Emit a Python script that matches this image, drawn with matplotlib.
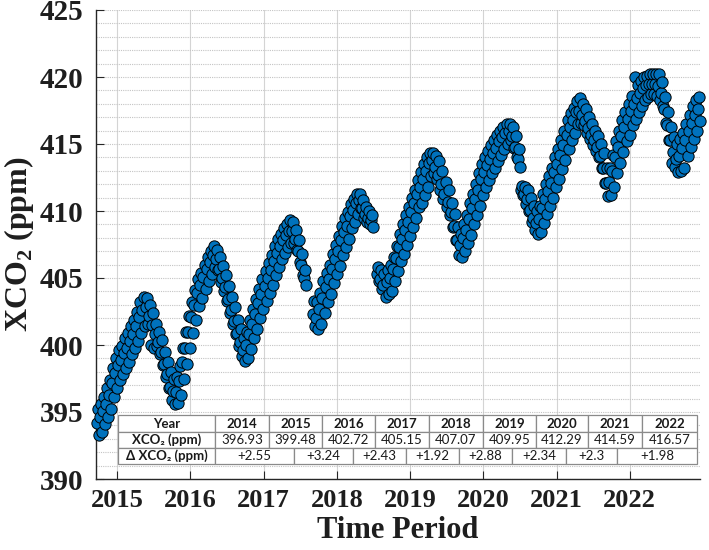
import numpy as np
import matplotlib
matplotlib.use("Agg")
import matplotlib.pyplot as plt
from matplotlib.patches import Rectangle

nan = np.nan

# half-month samples of the XCO2 band, starting Sept 2014
t0 = 2014.72
xco2_mid = [
    394.2, 394.6, 395.1, 395.6, 396.3, 397.2, 397.9, 398.5, 398.9, 399.4,
    399.8, 400.3, 400.8, 401.4, 402.1, 402.6, 402.8, 402.2, 401.5, 400.8,
    400.2, 399.5, 398.6, 397.8, 396.9, 396.6, 396.5, 397.3, 398.7, 399.8,
    401.0, 402.1, 403.0, 403.9, 404.5, 405.1, 405.7, 406.2, 406.7, 406.4,
    405.7, 405.0, 404.3, 403.4, 402.6, 401.8, 400.9, 400.2, 399.6, 400.0,
    400.8, 401.6, 402.3, 403.1, 403.8, 404.4, 405.0, 405.6, 406.3, 406.9,
    407.4, 407.8, 408.2, 408.5, 408.5, 407.9, 407.0, 406.0, 405.0, nan,
    nan, 402.3, 402.0, 402.7, 403.5, 404.3, 404.9, 405.7, 406.4, 407.0,
    407.8, 408.4, 408.9, 409.6, 410.1, 410.6, 410.8, 410.2, 409.8, 409.5,
    409.3, nan, 405.3, 404.9, 404.5, 404.7, 405.0, 405.7, 406.5, 407.3,
    407.9, 408.6, 409.2, 409.9, 410.6, 411.3, 411.8, 412.4, 413.0, 413.6,
    413.8, 413.3, 412.7, 412.0, 411.3, 410.7, 409.9, 408.9, 407.8, 407.5,
    408.0, 408.6, 409.4, 410.2, 410.9, 411.6, 412.4, 412.9, 413.4, 413.9,
    414.3, 414.7, 415.2, 415.5, 415.8, 416.0, 415.6, 414.8, 413.9, 411.6,
    411.3, 410.9, 410.1, 409.5, 409.1, 409.4, 410.2, 410.9, 411.5, 412.1,
    412.9, 413.5, 414.2, 414.9, 415.7, 416.3, 416.8, 417.4, 417.5, 417.2,
    416.7, 416.2, 415.7, 415.3, 414.8, 414.1, 413.2, 412.1, 412.2, 413.0,
    414.0, 414.8, 415.6, 416.3, 416.9, 417.5, 418.0, 418.4, 418.8, 419.2,
    419.4, 419.5, 419.5, 419.5, 419.3, 418.8, 417.6, 416.4, 415.3, 414.4,
    413.9, 414.1, 414.7, 415.3, 416.0, 416.6, 417.2, 417.6,
]
xco2_hi = [
    395.2, 395.6, 396.1, 396.8, 397.4, 398.3, 399.0, 399.6, 399.9, 400.5,
    400.9, 401.4, 401.9, 402.5, 403.2, 403.6, 403.5, 403.0, 402.4, 401.6,
    401.0, 400.4, 399.5, 398.7, 398.0, 397.5, 397.6, 398.4, 399.8, 401.0,
    402.2, 403.2, 404.1, 404.9, 405.4, 406.0, 406.6, 407.0, 407.4, 407.1,
    406.6, 405.9, 405.2, 404.4, 403.6, 402.8, 401.9, 401.2, 400.5, 401.0,
    401.9, 402.7, 403.4, 404.2, 404.9, 405.5, 406.1, 406.7, 407.4, 407.9,
    408.3, 408.7, 409.0, 409.3, 409.2, 408.6, 407.8, 406.8, 405.6, nan,
    nan, 403.3, 403.2, 403.9, 404.8, 405.4, 406.0, 406.8, 407.5, 408.1,
    408.9, 409.5, 409.9, 410.5, 410.9, 411.3, 411.3, 410.8, 410.3, 410.0,
    409.7, nan, 405.8, 405.6, 405.3, 405.6, 406.0, 406.6, 407.4, 408.3,
    409.0, 409.7, 410.3, 411.0, 411.6, 412.3, 412.9, 413.5, 414.0, 414.3,
    414.3, 414.1, 413.7, 413.0, 412.2, 411.6, 410.6, 409.8, 408.8, 408.3,
    409.0, 409.7, 410.6, 411.3, 412.0, 412.8, 413.5, 414.0, 414.5, 414.9,
    415.3, 415.7, 416.0, 416.3, 416.5, 416.5, 416.3, 415.6, 414.6, 411.9,
    411.8, 411.6, 411.0, 410.4, 410.0, 410.4, 411.3, 412.0, 412.6, 413.2,
    414.0, 414.6, 415.3, 416.0, 416.8, 417.3, 417.7, 418.2, 418.4, 418.0,
    417.6, 417.0, 416.5, 416.0, 415.6, 415.0, 414.3, 413.2, 413.2, 414.2,
    415.2, 416.0, 416.8, 417.4, 418.0, 418.6, 420.0, 419.4, 419.7, 420.0,
    420.1, 420.2, 420.2, 420.2, 420.2, 419.6, 418.5, 417.4, 416.3, 415.5,
    415.0, 415.4, 415.8, 416.5, 417.2, 417.8, 418.3, 418.5,
]
xco2_lo = [
    393.3, 393.5, 394.1, 394.6, 395.2, 396.1, 396.8, 397.4, 397.8, 398.3,
    398.7, 399.3, 399.8, 400.3, 400.9, 401.4, 401.6, 400.0, 399.8, 399.9,
    399.3, 398.5, 397.6, 396.8, 395.9, 395.6, 395.7, 396.3, 397.5, 398.6,
    399.8, 400.9, 401.9, 402.9, 403.5, 404.2, 404.8, 405.3, 405.8, 405.6,
    404.7, 404.0, 403.3, 402.4, 401.6, 400.8, 399.9, 399.2, 398.8, 399.0,
    399.7, 400.5, 401.2, 402.0, 402.7, 403.3, 403.9, 404.5, 405.2, 405.8,
    406.4, 406.9, 407.3, 407.6, 407.6, 407.1, 406.2, 405.2, 404.5, nan,
    nan, 401.4, 401.2, 401.6, 402.4, 403.2, 403.8, 404.6, 405.3, 405.9,
    406.7, 407.3, 407.9, 408.7, 409.2, 409.8, 410.2, 409.5, 409.2, 409.0,
    408.8, nan, 404.8, 404.2, 403.6, 403.8, 404.0, 404.8, 405.5, 406.3,
    406.8, 407.5, 408.1, 408.8, 409.5, 410.3, 410.6, 411.2, 411.8, 412.6,
    412.8, 412.4, 411.6, 410.9, 410.3, 409.7, 408.8, 407.8, 406.7, 406.6,
    407.0, 407.6, 408.2, 409.0, 409.7, 410.4, 411.2, 411.8, 412.3, 412.8,
    413.2, 413.7, 414.2, 414.6, 415.0, 415.3, 414.7, 414.0, 413.3, 411.2,
    410.5, 410.0, 409.2, 408.6, 408.3, 408.4, 409.1, 409.8, 410.4, 411.0,
    411.8, 412.4, 413.1, 413.8, 414.6, 415.3, 415.8, 416.5, 416.6, 416.4,
    415.8, 415.4, 414.9, 414.5, 414.0, 413.2, 412.1, 411.1, 411.2, 411.8,
    412.8, 413.6, 414.4, 415.2, 415.7, 416.4, 416.9, 417.4, 417.8, 418.3,
    418.5, 418.7, 418.7, 418.6, 418.3, 417.8, 416.6, 415.3, 413.6, 413.3,
    412.9, 413.0, 413.2, 414.1, 414.8, 415.4, 416.0, 416.7,
]

# annual table
row_names = ["Year", "XCO₂ (ppm)", "Δ XCO₂ (ppm)"]
table_years = ["2014", "2015", "2016", "2017", "2018", "2019", "2020", "2021", "2022"]
table_xco2 = ["396.93", "399.48", "402.72", "405.15", "407.07", "409.95", "412.29", "414.59", "416.57"]
table_delta = ["+2.55", "+3.24", "+2.43", "+1.92", "+2.88", "+2.34", "+2.3", "+1.98"]

year_ticks = [2015, 2016, 2017, 2018, 2019, 2020, 2021, 2022]

t = t0 + np.arange(len(xco2_mid)) / 24
t_all = np.concatenate([t + 1 / 72, t, t + 2 / 72])
v_all = np.concatenate([xco2_hi, xco2_mid, xco2_lo])
order = np.argsort(t_all, kind="stable")

plt.rcParams["mathtext.fontset"] = "custom"
plt.rcParams["mathtext.bf"] = "Liberation Serif:bold"
plt.rcParams["mathtext.rm"] = "Liberation Serif:bold"

W, H = 709, 550
fig = plt.figure(figsize=(W / 100, H / 100), dpi=100)
ax = fig.add_axes([96 / W, 1 - 479 / H, 604 / W, 469 / H])

ax.scatter(t_all[order], v_all[order], s=66, facecolor="#0072bd",
           edgecolor="black", linewidth=0.7, zorder=3, clip_on=False)

ax.set_xlim(2014.71, 2022.96)
ax.set_ylim(390, 425)
ax.set_xticks(year_ticks)
ax.set_xticklabels([str(y) for y in year_ticks])
ax.set_yticks(np.arange(390, 426, 5))
ax.set_yticks(np.arange(390, 426, 1), minor=True)

serif = "Liberation Serif"
for lab in ax.get_xticklabels():
    lab.set_fontfamily(serif)
    lab.set_fontweight("bold")
    lab.set_fontsize(19)
    lab.set_color("#1e1e1e")
for lab in ax.get_yticklabels():
    lab.set_fontfamily(serif)
    lab.set_fontweight("bold")
    lab.set_fontsize(21)
    lab.set_color("#1e1e1e")

ax.tick_params(axis="both", which="major", direction="in", length=6, width=0.8, color="#262626")
ax.tick_params(axis="x", pad=7)
ax.tick_params(axis="y", pad=9)
ax.tick_params(axis="both", which="minor", length=0)

ax.grid(axis="x", which="major", color="#d4d4d4", linewidth=0.8, linestyle="-")
ax.grid(axis="y", which="both", color="#c4c4c4", linewidth=0.8, linestyle=(0, (1, 1)))
ax.set_axisbelow(True)
for side in ["top", "right"]:
    ax.spines[side].set_visible(False)
for side in ["left", "bottom"]:
    ax.spines[side].set_color("#262626")
    ax.spines[side].set_linewidth(1.0)

ax.set_xlabel("Time Period", fontfamily=serif, fontweight="bold", fontsize=22,
              color="#1e1e1e", labelpad=3)
ax.set_ylabel("XCO$_\\mathbf{2}$ (ppm)", fontfamily=serif, fontweight="bold",
              fontsize=23, color="#1e1e1e", labelpad=3)

# table drawn in figure pixel coordinates
col_px = [118, 215, 269, 322, 375, 429, 483, 536, 588, 642, 697]
delta_px = [215, 294, 353, 406, 459, 512, 566, 617, 697]
row_px = [415, 432, 448, 464]
tf = fig.transFigure
sans = ["Lato", "DejaVu Sans"]
edge = "#8a8a8a"


def cell(x0, x1, r, text, bold):
    y0, y1 = row_px[r], row_px[r + 1]
    ax.add_patch(Rectangle((x0 / W, 1 - y1 / H), (x1 - x0) / W, (y1 - y0) / H,
                           transform=tf, facecolor="white", edgecolor=edge,
                           linewidth=0.9, clip_on=False, zorder=5))
    ax.text((x0 + x1) / 2 / W, 1 - (y0 + y1) / 2 / H, text, transform=tf,
            ha="center", va="center", fontsize=9.5, family=sans,
            fontweight="bold" if bold else "normal", color="#1a1a1a",
            zorder=6, clip_on=False)


for r, name in enumerate(row_names):
    cell(col_px[0], col_px[1], r, name, True)
for k, yr in enumerate(table_years):
    cell(col_px[k + 1], col_px[k + 2], 0, yr, True)
    cell(col_px[k + 1], col_px[k + 2], 1, table_xco2[k], False)
for k, d in enumerate(table_delta):
    cell(delta_px[k], delta_px[k + 1], 2, d, False)

fig.savefig("out.png", dpi=100)
